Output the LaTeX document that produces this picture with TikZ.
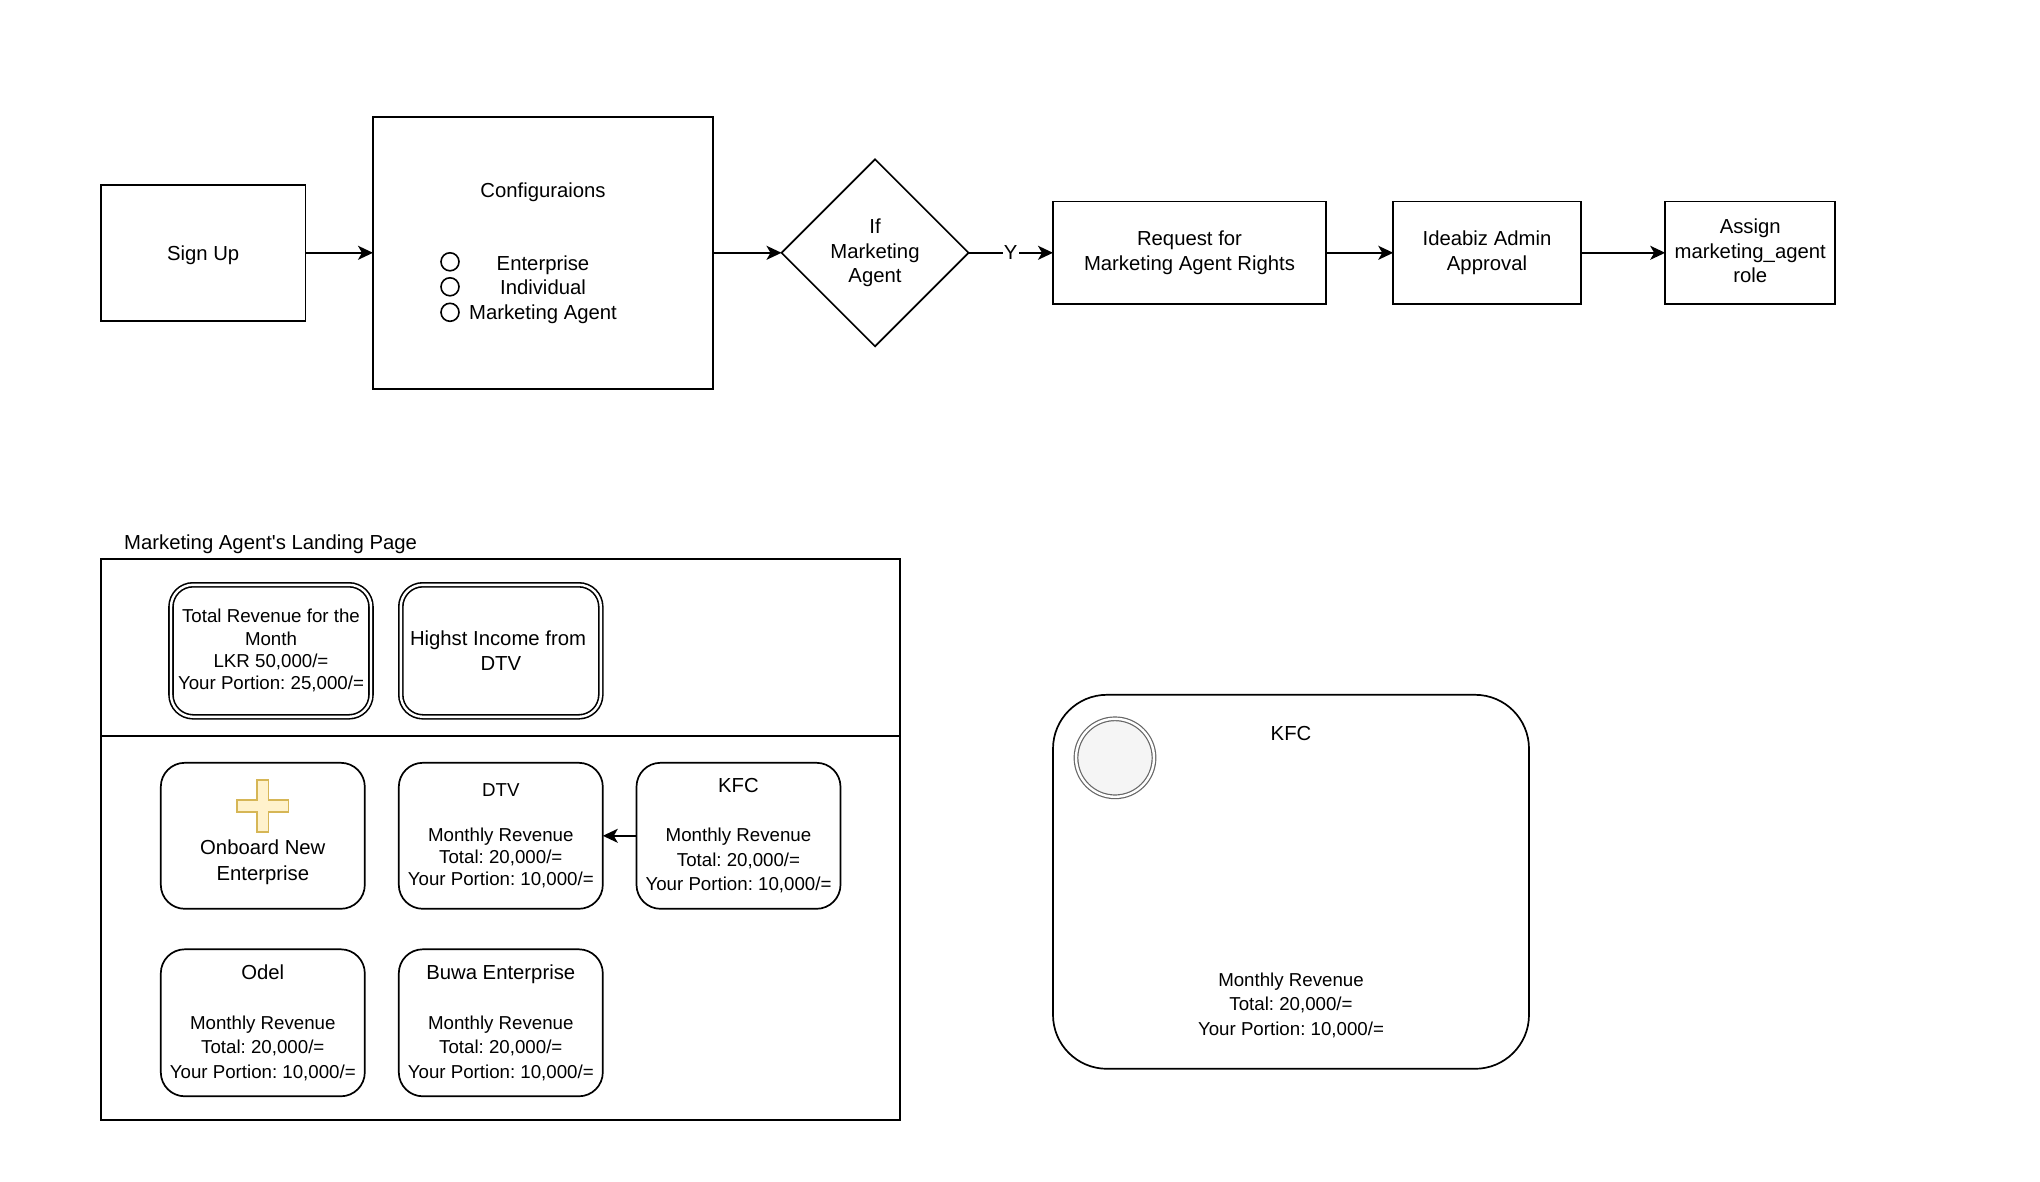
\documentclass[tikz,border=0pt]{standalone}
\usepackage{fontspec}
\setmainfont{Liberation Sans}
\newfontfamily\plainf{Liberation Sans}
\usetikzlibrary{arrows.meta,shapes.geometric}
\newcommand\bgf{\fontsize{20.3}{24.4}\selectfont}
\newcommand\smt{\fontsize{18.7}{22.3}\selectfont}
\newcommand\sml{\fontsize{18.7}{24.4}\selectfont}
\newcommand\topfix{\rule{0pt}{19pt}}
\definecolor{crossfill}{HTML}{FFF2CC}
\definecolor{crossline}{HTML}{D6B656}
\definecolor{discfill}{HTML}{F5F5F5}
\definecolor{discline}{HTML}{666666}
\tikzset{
  base/.style={draw=black,line width=1.7pt,outer sep=0pt,inner sep=0pt,align=center,font=\bgf,text=black,execute at begin node=\topfix},
  sq/.style={base,rectangle,minimum width=#1},
  card/.style={base,rectangle,rounded corners=24pt,minimum width=204pt,minimum height=146pt,fill=white},
  dcard/.style={base,rectangle,rounded corners=22pt,minimum width=200pt,minimum height=132pt,line width=1.6pt,double=white,double distance=2.4pt},
  radio/.style={draw=black,line width=1.6pt,circle,minimum size=18pt,inner sep=0pt,outer sep=0pt},
  conn/.style={draw=black,line width=1.7pt,-{Stealth[length=15pt,width=14pt,inset=4pt]}},
  lbl/.style={inner sep=0pt,align=center,font=\bgf,text=black}
}
\begin{document}
\frenchspacing
\begin{tikzpicture}[x=1pt,y=-1pt]
\fill[white] (0,0) rectangle (2040,1182);
\useasboundingbox (0,0) rectangle (2040,1182);
\begin{scope}[shift={(0,0.8)}]
% top flow
\node[sq=204.5pt,minimum height=136pt,execute at begin node=\rule{0pt}{15pt}] (signup) at (203.2,252) {Sign Up};
\node[sq=340pt,minimum height=272pt] (config) at (543,252) {Configuraions\\[48.8pt]Enterprise\\Individual\\Marketing Agent};
\node[radio] (r1) at (450,261) {};
\node[radio] (r2) at (450,286) {};
\node[radio] (r3) at (450,311.5) {};
\node[base,diamond,minimum width=187pt,minimum height=187pt,shape aspect=1] (dec) at (875,252) {If\\Marketing\\Agent};
\node[sq=273pt,minimum height=102.5pt,execute at begin node=\rule{0pt}{21pt}] (req) at (1189.5,252) {Request for\\Marketing Agent Rights};
\node[sq=187.5pt,minimum height=102.5pt,execute at begin node=\rule{0pt}{21pt}] (adm) at (1487,252) {Ideabiz Admin\\Approval};
\node[sq=170pt,minimum height=102.5pt] (asg) at (1750.2,252) {Assign\\marketing\_agent\\role\rule[-4pt]{0pt}{4pt}};
\draw[conn] (signup) -- (config);
\draw[conn] (config) -- (dec);
\draw[conn] (dec) -- node[pos=0.5,fill=white,inner sep=1pt,font=\bgf]{Y} (req);
\draw[conn] (req) -- (adm);
\draw[conn] (adm) -- (asg);
% landing page
\node[lbl,anchor=west,font=\plainf\bgf] (title) at (124,543) {Marketing Agent's Landing Page};
\node[sq=799pt,minimum height=177pt] (upper) at (500.5,646.5) {};
\node[sq=799pt,minimum height=384.5pt] (lower) at (500.5,927.2) {};
\node[dcard,font=\smt] (tot) at (271,650) {Total Revenue for the\\Month\\LKR 50,000/=\\Your Portion: 25,000/=};
\node[dcard] (high) at (500.8,650) {Highst Income from\hspace*{5.6pt}\\DTV};
\node[card] (onb) at (262.8,835) {\mbox{}\\[17.4pt]\\[1pt]Onboard New\\[1pt]Enterprise};
\draw[draw=crossline,fill=crossfill,line width=1.5pt] (257,779) -- (268.5,779) -- (268.5,799) -- (288.7,799) -- (288.7,811) -- (268.5,811) -- (268.5,831) -- (257,831) -- (257,811) -- (237,811) -- (237,799) -- (257,799) -- cycle;
\node[card,font=\smt] (dtv) at (500.8,835) {DTV\\[23pt]Monthly Revenue\\Total: 20,000/=\\Your Portion: 10,000/=};
\node[card,font=\sml] (kfc) at (738.5,835) {\bgf KFC\\[25pt]Monthly Revenue\\Total: 20,000/=\\Your Portion: 10,000/=};
\node[card,font=\sml,minimum height=147pt] (odel) at (262.8,1022) {\bgf Odel\\[25pt]Monthly Revenue\\Total: 20,000/=\\Your Portion: 10,000/=};
\node[card,font=\sml,minimum height=147pt] (buwa) at (500.8,1022) {\bgf Buwa Enterprise\\[25pt]Monthly Revenue\\Total: 20,000/=\\Your Portion: 10,000/=};
\draw[conn] (kfc) -- (dtv);
% detail card
\node[base,font=\sml,rectangle,rounded corners=54pt,minimum width=476pt,minimum height=374pt] (big) at (1291,881) {\bgf KFC\\[222pt]Monthly Revenue\\Total: 20,000/=\\Your Portion: 10,000/=};
\node[circle,draw=discline,fill=discfill,line width=1.2pt,double=white,double distance=2.4pt,minimum size=78pt,inner sep=0pt] (disc) at (1115,757) {};
\end{scope}
\end{tikzpicture}
\end{document}
